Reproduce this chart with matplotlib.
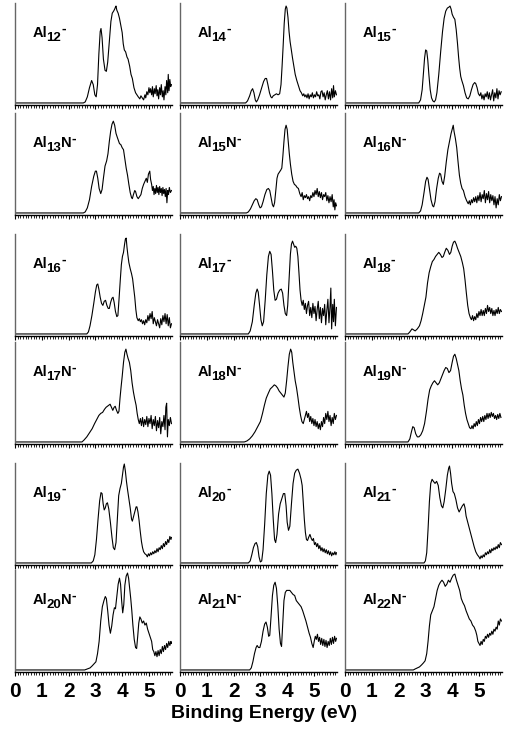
import matplotlib
matplotlib.use('Agg')
import matplotlib.pyplot as plt
from matplotlib.ticker import MultipleLocator

plt.rcParams['font.family'] = ['Liberation Sans', 'DejaVu Sans']

# spectra: (binding energy eV, relative intensity)
al12 = [(0, .02), (2.55, .02), (2.62, .03), (2.7, .08), (2.78, .17), (2.86, .24), (2.92, .2), (2.98, .1),
        (3.03, .08), (3.08, .2), (3.13, .5), (3.18, .72), (3.21, .75), (3.25, .66), (3.3, .45), (3.36, .34),
        (3.41, .33), (3.46, .42), (3.52, .62), (3.58, .82), (3.63, .9), (3.68, .92), (3.72, .94), (3.75, .96),
        (3.77, .97), (3.8, .93), (3.85, .9), (3.9, .85), (3.95, .78), (4.0, .71), (4.04, .6), (4.08, .54),
        (4.13, .52), (4.18, .47), (4.22, .45), (4.28, .38), (4.33, .3), (4.38, .26), (4.44, .17), (4.5, .12),
        (4.55, .1), (4.6, .08), (4.66, .06), (4.7, .09), (4.75, .07), (4.8, .05), (4.85, .1), (4.88, .07),
        (4.92, .13), (4.96, .1), (5.0, .17), (5.03, .12), (5.06, .16), (5.1, .1), (5.13, .18), (5.16, .08),
        (5.2, .16), (5.23, .11), (5.27, .19), (5.3, .09), (5.33, .15), (5.36, .06), (5.4, .17), (5.43, .1),
        (5.46, .2), (5.5, .08), (5.53, .14), (5.56, .05), (5.6, .18), (5.63, .1), (5.66, .24), (5.7, .12),
        (5.72, .3), (5.75, .14), (5.78, .25), (5.81, .18), (5.84, .2)]

al13n = [(0, .02), (2.55, .02), (2.62, .03), (2.7, .07), (2.78, .15), (2.86, .28), (2.94, .38), (3.0, .43),
         (3.04, .43), (3.09, .36), (3.14, .26), (3.2, .21), (3.25, .25), (3.3, .36), (3.36, .48), (3.42, .53),
         (3.47, .6), (3.52, .72), (3.57, .82), (3.62, .89), (3.67, .92), (3.72, .88), (3.77, .8), (3.82, .76),
         (3.86, .73), (3.9, .7), (3.95, .69), (4.0, .66), (4.05, .64), (4.1, .55), (4.15, .46), (4.2, .39),
         (4.25, .3), (4.3, .22), (4.35, .17), (4.38, .16), (4.42, .2), (4.47, .24), (4.5, .23), (4.55, .18),
         (4.6, .16), (4.65, .18), (4.7, .2), (4.75, .26), (4.8, .3), (4.85, .33), (4.9, .36), (4.94, .32),
         (4.98, .4), (5.03, .43), (5.06, .35), (5.1, .3), (5.13, .24), (5.16, .28), (5.19, .2), (5.22, .26),
         (5.25, .21), (5.28, .29), (5.31, .22), (5.34, .27), (5.37, .2), (5.4, .28), (5.43, .22), (5.46, .26),
         (5.49, .19), (5.52, .27), (5.55, .21), (5.58, .25), (5.61, .18), (5.64, .26), (5.67, .12), (5.7, .24),
         (5.73, .2), (5.76, .27), (5.8, .22), (5.84, .24)]

al14 = [(0, .02), (2.45, .02), (2.52, .04), (2.6, .09), (2.66, .14), (2.71, .16), (2.76, .12), (2.81, .05),
        (2.85, .03), (2.9, .05), (2.97, .1), (3.05, .17), (3.12, .23), (3.18, .26), (3.23, .26), (3.28, .2),
        (3.34, .12), (3.39, .08), (3.43, .07), (3.48, .09), (3.54, .1), (3.6, .11), (3.66, .1), (3.72, .11),
        (3.77, .2), (3.81, .38), (3.85, .58), (3.89, .8), (3.93, .94), (3.96, .97), (3.99, .95), (4.03, .86),
        (4.07, .72), (4.11, .62), (4.15, .55), (4.2, .46), (4.25, .38), (4.3, .3), (4.36, .24), (4.42, .19),
        (4.48, .14), (4.53, .12), (4.58, .09), (4.62, .11), (4.66, .08), (4.7, .1), (4.74, .07), (4.78, .11),
        (4.82, .06), (4.86, .1), (4.9, .08), (4.94, .12), (4.98, .07), (5.02, .1), (5.06, .08), (5.1, .13),
        (5.14, .09), (5.18, .1), (5.22, .06), (5.26, .13), (5.3, .14), (5.34, .08), (5.38, .12), (5.42, .05),
        (5.46, .1), (5.5, .14), (5.54, .06), (5.58, .13), (5.62, .05), (5.66, .16), (5.7, .07), (5.73, .19),
        (5.76, .08), (5.8, .14), (5.84, .1)]

al15n = [(0, .02), (2.48, .02), (2.55, .03), (2.63, .06), (2.7, .1), (2.77, .14), (2.83, .16), (2.88, .15),
         (2.94, .1), (2.99, .07), (3.04, .08), (3.1, .13), (3.17, .2), (3.24, .25), (3.3, .26), (3.35, .24),
         (3.4, .17), (3.45, .1), (3.49, .08), (3.53, .12), (3.58, .25), (3.62, .36), (3.66, .4), (3.71, .42),
         (3.76, .44), (3.8, .46), (3.84, .58), (3.88, .72), (3.92, .84), (3.96, .88), (4.0, .84), (4.04, .72),
         (4.08, .6), (4.12, .5), (4.17, .4), (4.22, .33), (4.27, .3), (4.32, .29), (4.37, .27), (4.42, .26),
         (4.47, .21), (4.52, .18), (4.56, .22), (4.6, .15), (4.64, .19), (4.68, .17), (4.72, .2), (4.76, .16),
         (4.8, .18), (4.84, .14), (4.88, .19), (4.92, .17), (4.96, .22), (5.0, .18), (5.04, .24), (5.08, .2),
         (5.12, .26), (5.16, .18), (5.2, .23), (5.24, .17), (5.28, .22), (5.32, .15), (5.36, .2), (5.4, .18),
         (5.44, .22), (5.48, .14), (5.52, .19), (5.56, .12), (5.6, .18), (5.64, .13), (5.68, .2), (5.72, .08),
         (5.75, .15), (5.78, .05), (5.81, .12), (5.84, .09)]

al15 = [(0, .02), (2.75, .02), (2.82, .05), (2.88, .15), (2.93, .32), (2.97, .46), (3.01, .54), (3.05, .53),
        (3.09, .44), (3.13, .3), (3.18, .15), (3.23, .07), (3.28, .04), (3.33, .03), (3.38, .05), (3.43, .12),
        (3.5, .3), (3.57, .52), (3.64, .72), (3.7, .85), (3.76, .92), (3.82, .95), (3.88, .96), (3.92, .97),
        (3.96, .94), (4.0, .89), (4.05, .86), (4.1, .84), (4.15, .74), (4.2, .6), (4.24, .47), (4.28, .36),
        (4.32, .28), (4.36, .24), (4.42, .19), (4.48, .12), (4.54, .07), (4.6, .06), (4.66, .09), (4.72, .15),
        (4.78, .2), (4.84, .22), (4.88, .21), (4.93, .17), (4.98, .11), (5.03, .09), (5.07, .12), (5.11, .06),
        (5.15, .1), (5.19, .05), (5.23, .11), (5.27, .08), (5.31, .13), (5.35, .06), (5.39, .12), (5.43, .05),
        (5.47, .1), (5.51, .15), (5.55, .04), (5.59, .12), (5.63, .07), (5.67, .16), (5.71, .06), (5.75, .14),
        (5.79, .1), (5.83, .13)]

al16n = [(0, .02), (2.75, .02), (2.82, .04), (2.88, .1), (2.95, .22), (3.01, .33), (3.06, .37), (3.1, .35),
         (3.15, .26), (3.21, .15), (3.27, .09), (3.31, .08), (3.36, .13), (3.42, .26), (3.48, .36), (3.53, .41),
         (3.57, .4), (3.62, .33), (3.67, .3), (3.72, .38), (3.78, .52), (3.84, .64), (3.9, .72), (3.96, .8),
         (4.01, .85), (4.04, .88), (4.07, .82), (4.12, .75), (4.17, .66), (4.22, .52), (4.27, .39), (4.32, .31),
         (4.37, .26), (4.42, .24), (4.48, .18), (4.54, .14), (4.6, .11), (4.64, .14), (4.68, .1), (4.72, .15),
         (4.76, .12), (4.8, .17), (4.84, .13), (4.88, .18), (4.92, .12), (4.96, .19), (5.0, .14), (5.04, .22),
         (5.08, .13), (5.12, .2), (5.16, .16), (5.2, .24), (5.24, .12), (5.28, .21), (5.32, .15), (5.36, .23),
         (5.4, .12), (5.44, .2), (5.48, .14), (5.52, .19), (5.56, .1), (5.6, .18), (5.64, .07), (5.68, .16),
         (5.72, .1), (5.76, .2), (5.8, .14), (5.84, .18)]

al16 = [(0, .02), (2.68, .02), (2.74, .04), (2.8, .1), (2.87, .2), (2.94, .32), (3.0, .43), (3.05, .5),
        (3.09, .51), (3.13, .46), (3.18, .38), (3.23, .32), (3.28, .3), (3.33, .34), (3.38, .35), (3.43, .3),
        (3.48, .27), (3.52, .27), (3.57, .33), (3.62, .37), (3.66, .38), (3.7, .33), (3.75, .24), (3.8, .19),
        (3.84, .2), (3.88, .35), (3.93, .55), (3.97, .7), (4.01, .78), (4.05, .82), (4.09, .9), (4.12, .95),
        (4.15, .96), (4.18, .87), (4.21, .8), (4.25, .72), (4.3, .66), (4.35, .61), (4.39, .56), (4.43, .47),
        (4.47, .38), (4.51, .26), (4.55, .18), (4.6, .15), (4.64, .17), (4.68, .14), (4.72, .16), (4.76, .12),
        (4.8, .15), (4.84, .11), (4.88, .16), (4.92, .13), (4.96, .2), (5.0, .15), (5.04, .22), (5.08, .17),
        (5.12, .24), (5.16, .12), (5.2, .18), (5.24, .14), (5.28, .1), (5.32, .16), (5.36, .12), (5.4, .08),
        (5.44, .17), (5.48, .11), (5.52, .2), (5.56, .14), (5.6, .22), (5.64, .12), (5.68, .21), (5.72, .1),
        (5.76, .18), (5.8, .08), (5.84, .12)]

al17n = [(0, .02), (2.5, .02), (2.58, .04), (2.68, .07), (2.78, .11), (2.88, .15), (2.97, .2), (3.05, .24),
         (3.13, .28), (3.2, .3), (3.27, .31), (3.34, .34), (3.4, .36), (3.45, .37), (3.5, .38), (3.55, .39),
         (3.6, .36), (3.65, .33), (3.7, .36), (3.74, .37), (3.79, .33), (3.84, .3), (3.88, .32), (3.92, .45),
         (3.96, .56), (4.0, .66), (4.05, .8), (4.1, .9), (4.14, .93), (4.18, .88), (4.22, .84), (4.27, .8),
         (4.32, .72), (4.37, .6), (4.42, .51), (4.47, .44), (4.52, .38), (4.56, .3), (4.6, .24), (4.64, .2),
         (4.68, .25), (4.72, .18), (4.76, .26), (4.8, .17), (4.84, .24), (4.88, .19), (4.92, .27), (4.96, .17),
         (5.0, .25), (5.04, .2), (5.08, .28), (5.12, .15), (5.16, .24), (5.2, .18), (5.24, .27), (5.28, .13),
         (5.32, .23), (5.36, .16), (5.4, .26), (5.44, .1), (5.48, .22), (5.52, .17), (5.56, .28), (5.6, .14),
         (5.63, .36), (5.66, .4), (5.69, .07), (5.72, .24), (5.76, .18), (5.8, .26), (5.84, .2)]

al17 = [(0, .02), (2.55, .02), (2.62, .05), (2.7, .14), (2.77, .3), (2.83, .42), (2.88, .46), (2.92, .43),
        (2.97, .3), (3.02, .16), (3.07, .1), (3.12, .14), (3.18, .35), (3.24, .6), (3.3, .78), (3.35, .83),
        (3.4, .8), (3.45, .64), (3.5, .45), (3.55, .35), (3.6, .36), (3.66, .42), (3.72, .45), (3.78, .46),
        (3.83, .42), (3.88, .3), (3.93, .22), (3.98, .2), (4.02, .3), (4.07, .55), (4.12, .8), (4.16, .9),
        (4.2, .93), (4.24, .9), (4.28, .87), (4.32, .88), (4.36, .86), (4.4, .78), (4.44, .62), (4.48, .45),
        (4.52, .35), (4.56, .3), (4.6, .35), (4.64, .26), (4.68, .32), (4.72, .22), (4.76, .3), (4.8, .34),
        (4.84, .2), (4.88, .28), (4.92, .18), (4.96, .32), (5.0, .22), (5.04, .29), (5.08, .15), (5.12, .26),
        (5.16, .34), (5.2, .17), (5.24, .28), (5.28, .13), (5.32, .27), (5.36, .2), (5.4, .31), (5.44, .11),
        (5.48, .25), (5.52, .36), (5.56, .13), (5.6, .29), (5.63, .47), (5.66, .07), (5.7, .31), (5.73, .14),
        (5.76, .36), (5.8, .1), (5.84, .28)]

al18n = [(0, .02), (2.4, .02), (2.5, .03), (2.6, .05), (2.7, .08), (2.8, .12), (2.9, .17), (3.0, .22),
         (3.08, .3), (3.15, .38), (3.22, .45), (3.3, .5), (3.37, .54), (3.45, .56), (3.52, .58), (3.58, .57),
         (3.64, .55), (3.7, .52), (3.76, .5), (3.82, .48), (3.88, .46), (3.93, .5), (3.98, .62), (4.03, .76),
         (4.08, .88), (4.13, .93), (4.17, .9), (4.21, .8), (4.25, .72), (4.3, .62), (4.35, .55), (4.4, .46),
         (4.45, .36), (4.5, .28), (4.55, .22), (4.6, .2), (4.64, .24), (4.68, .28), (4.72, .32), (4.76, .26),
         (4.8, .3), (4.84, .22), (4.88, .27), (4.92, .2), (4.96, .25), (5.0, .18), (5.04, .24), (5.08, .17),
         (5.12, .22), (5.16, .15), (5.2, .2), (5.24, .14), (5.28, .22), (5.32, .17), (5.36, .26), (5.4, .2),
         (5.44, .3), (5.48, .24), (5.52, .32), (5.56, .22), (5.6, .28), (5.64, .18), (5.68, .26), (5.72, .2),
         (5.76, .3), (5.8, .24), (5.84, .28)]

al18 = [(0, .02), (2.35, .02), (2.42, .04), (2.5, .07), (2.56, .06), (2.62, .05), (2.7, .07), (2.78, .1),
        (2.84, .15), (2.9, .22), (2.96, .3), (3.02, .38), (3.08, .52), (3.14, .62), (3.2, .68), (3.26, .73),
        (3.32, .75), (3.38, .78), (3.44, .8), (3.5, .82), (3.56, .8), (3.62, .77), (3.67, .78), (3.72, .82),
        (3.78, .86), (3.84, .84), (3.9, .8), (3.95, .82), (4.0, .88), (4.05, .92), (4.1, .93), (4.15, .9),
        (4.2, .86), (4.26, .82), (4.32, .78), (4.38, .72), (4.43, .66), (4.48, .55), (4.53, .42), (4.58, .3),
        (4.63, .22), (4.68, .18), (4.72, .16), (4.76, .2), (4.8, .15), (4.84, .19), (4.88, .16), (4.92, .22),
        (4.96, .18), (5.0, .24), (5.04, .2), (5.08, .26), (5.12, .2), (5.16, .25), (5.2, .2), (5.24, .27),
        (5.28, .22), (5.32, .3), (5.36, .24), (5.4, .28), (5.44, .22), (5.48, .27), (5.52, .2), (5.56, .25),
        (5.6, .2), (5.64, .26), (5.68, .22), (5.72, .28), (5.76, .22), (5.8, .26), (5.84, .24)]

al19n = [(0, .02), (2.35, .02), (2.42, .05), (2.48, .12), (2.53, .17), (2.58, .16), (2.64, .1), (2.7, .07),
         (2.76, .07), (2.83, .09), (2.9, .13), (2.97, .2), (3.04, .32), (3.1, .44), (3.16, .53), (3.22, .57),
         (3.28, .6), (3.34, .62), (3.4, .6), (3.46, .58), (3.52, .6), (3.58, .64), (3.64, .68), (3.7, .72),
         (3.76, .75), (3.82, .74), (3.88, .7), (3.94, .72), (4.0, .8), (4.05, .86), (4.1, .88), (4.15, .84),
         (4.2, .78), (4.25, .72), (4.3, .62), (4.35, .54), (4.4, .48), (4.45, .38), (4.5, .3), (4.55, .24),
         (4.6, .2), (4.65, .16), (4.7, .15), (4.74, .18), (4.78, .15), (4.82, .2), (4.86, .17), (4.9, .22),
         (4.94, .18), (4.98, .24), (5.02, .2), (5.06, .26), (5.1, .22), (5.14, .27), (5.18, .22), (5.22, .28),
         (5.26, .24), (5.3, .3), (5.34, .25), (5.38, .3), (5.42, .26), (5.46, .31), (5.5, .27), (5.54, .3),
         (5.58, .25), (5.62, .28), (5.66, .24), (5.7, .29), (5.74, .25), (5.78, .3), (5.82, .26)]

al19 = [(0, .02), (2.85, .02), (2.92, .04), (2.98, .1), (3.04, .25), (3.1, .45), (3.16, .63), (3.21, .71),
        (3.25, .7), (3.29, .6), (3.33, .54), (3.37, .56), (3.41, .6), (3.45, .61), (3.5, .55), (3.56, .42),
        (3.62, .27), (3.67, .17), (3.72, .15), (3.77, .22), (3.82, .45), (3.87, .68), (3.92, .75), (3.97, .8),
        (4.01, .88), (4.05, .96), (4.08, .99), (4.12, .92), (4.16, .82), (4.2, .74), (4.25, .65), (4.3, .56),
        (4.35, .45), (4.38, .43), (4.42, .47), (4.47, .52), (4.52, .57), (4.55, .57), (4.59, .52), (4.63, .44),
        (4.67, .34), (4.72, .23), (4.76, .17), (4.8, .13), (4.85, .11), (4.9, .1), (4.94, .08), (4.98, .11),
        (5.02, .09), (5.06, .12), (5.1, .1), (5.14, .13), (5.18, .11), (5.22, .14), (5.26, .12), (5.3, .16),
        (5.34, .13), (5.38, .17), (5.42, .15), (5.46, .19), (5.5, .16), (5.54, .21), (5.58, .18), (5.62, .23),
        (5.66, .2), (5.7, .25), (5.74, .22), (5.78, .28), (5.82, .25), (5.84, .27)]

al20n = [(0, .02), (2.6, .02), (2.7, .03), (2.8, .04), (2.88, .06), (2.95, .08), (3.02, .1), (3.08, .18),
         (3.14, .3), (3.2, .5), (3.26, .64), (3.32, .7), (3.37, .74), (3.41, .72), (3.46, .6), (3.51, .46),
         (3.56, .38), (3.61, .45), (3.66, .56), (3.71, .63), (3.75, .62), (3.8, .74), (3.85, .86), (3.9, .92),
         (3.94, .86), (3.98, .7), (4.02, .58), (4.06, .66), (4.1, .85), (4.15, .94), (4.2, .97), (4.24, .92),
         (4.28, .82), (4.32, .72), (4.36, .6), (4.4, .46), (4.45, .32), (4.5, .24), (4.54, .23), (4.58, .35),
         (4.62, .48), (4.66, .54), (4.7, .52), (4.75, .48), (4.8, .5), (4.85, .46), (4.9, .48), (4.95, .42),
         (5.0, .38), (5.05, .34), (5.1, .3), (5.14, .22), (5.18, .2), (5.22, .16), (5.26, .2), (5.3, .15),
         (5.34, .21), (5.38, .16), (5.42, .22), (5.46, .18), (5.5, .25), (5.54, .2), (5.58, .26), (5.62, .22),
         (5.66, .28), (5.7, .24), (5.74, .3), (5.78, .26), (5.82, .3), (5.84, .28)]

al20 = [(0, .02), (2.55, .02), (2.62, .04), (2.68, .1), (2.74, .17), (2.8, .21), (2.85, .22), (2.9, .18),
        (2.95, .08), (3.0, .03), (3.05, .04), (3.1, .15), (3.16, .4), (3.22, .7), (3.28, .88), (3.33, .92),
        (3.38, .88), (3.43, .7), (3.48, .45), (3.53, .25), (3.57, .22), (3.62, .3), (3.68, .5), (3.74, .6),
        (3.8, .65), (3.86, .7), (3.91, .7), (3.96, .58), (4.0, .42), (4.05, .34), (4.1, .38), (4.16, .6),
        (4.22, .8), (4.28, .9), (4.34, .93), (4.4, .94), (4.46, .9), (4.52, .84), (4.56, .78), (4.6, .62),
        (4.64, .45), (4.68, .32), (4.72, .25), (4.76, .24), (4.8, .27), (4.85, .3), (4.9, .26), (4.94, .24),
        (4.98, .26), (5.02, .2), (5.06, .22), (5.1, .18), (5.14, .21), (5.18, .16), (5.22, .19), (5.26, .14),
        (5.3, .17), (5.34, .13), (5.38, .16), (5.42, .12), (5.46, .15), (5.5, .11), (5.54, .14), (5.58, .1),
        (5.62, .13), (5.66, .09), (5.7, .12), (5.74, .1), (5.78, .13), (5.82, .1), (5.84, .12)]

al21n = [(0, .02), (2.6, .02), (2.66, .04), (2.72, .1), (2.78, .18), (2.84, .24), (2.88, .26), (2.93, .24),
         (2.98, .24), (3.04, .3), (3.1, .4), (3.16, .47), (3.21, .49), (3.26, .44), (3.31, .35), (3.35, .36),
         (3.4, .55), (3.45, .75), (3.5, .85), (3.55, .88), (3.6, .82), (3.65, .65), (3.7, .42), (3.75, .28),
         (3.79, .25), (3.83, .45), (3.88, .7), (3.93, .78), (3.98, .8), (4.04, .8), (4.1, .8), (4.16, .78),
         (4.22, .76), (4.28, .75), (4.34, .7), (4.4, .68), (4.46, .66), (4.52, .64), (4.58, .6), (4.64, .55),
         (4.7, .5), (4.76, .44), (4.82, .38), (4.87, .34), (4.92, .28), (4.97, .24), (5.01, .3), (5.05, .35),
         (5.09, .32), (5.13, .37), (5.17, .3), (5.21, .34), (5.25, .27), (5.29, .33), (5.33, .26), (5.37, .32),
         (5.41, .25), (5.45, .31), (5.49, .24), (5.53, .3), (5.57, .26), (5.61, .33), (5.65, .27), (5.69, .34),
         (5.73, .28), (5.77, .35), (5.81, .3), (5.84, .33)]

al21 = [(0, .02), (2.95, .02), (3.0, .04), (3.05, .12), (3.1, .35), (3.15, .62), (3.2, .8), (3.25, .84),
        (3.3, .82), (3.36, .8), (3.42, .82), (3.48, .78), (3.54, .66), (3.6, .58), (3.65, .56), (3.7, .62),
        (3.76, .74), (3.82, .88), (3.87, .95), (3.9, .97), (3.94, .9), (3.98, .8), (4.03, .72), (4.08, .7),
        (4.14, .64), (4.2, .56), (4.26, .52), (4.32, .55), (4.38, .58), (4.44, .6), (4.48, .56), (4.52, .48),
        (4.58, .42), (4.64, .36), (4.7, .3), (4.76, .24), (4.82, .18), (4.88, .13), (4.94, .1), (5.0, .08),
        (5.04, .06), (5.08, .09), (5.12, .07), (5.16, .1), (5.2, .08), (5.24, .12), (5.28, .1), (5.32, .13),
        (5.36, .11), (5.4, .15), (5.44, .12), (5.48, .16), (5.52, .14), (5.56, .17), (5.6, .15), (5.64, .18),
        (5.68, .16), (5.72, .2), (5.76, .17), (5.8, .22), (5.84, .2)]

al22n = [(0, .02), (2.55, .02), (2.62, .03), (2.7, .04), (2.78, .05), (2.86, .07), (2.93, .09), (2.99, .11),
         (3.05, .18), (3.1, .3), (3.15, .45), (3.2, .56), (3.26, .6), (3.32, .64), (3.38, .72), (3.44, .8),
         (3.5, .85), (3.56, .88), (3.62, .9), (3.68, .88), (3.74, .84), (3.8, .86), (3.86, .9), (3.92, .88),
         (3.98, .92), (4.04, .95), (4.1, .96), (4.16, .9), (4.22, .85), (4.28, .8), (4.34, .72), (4.4, .68),
         (4.46, .65), (4.52, .6), (4.58, .56), (4.64, .52), (4.7, .5), (4.76, .46), (4.82, .44), (4.88, .4),
         (4.92, .36), (4.96, .3), (5.0, .28), (5.04, .26), (5.08, .3), (5.12, .27), (5.16, .32), (5.2, .3),
         (5.24, .35), (5.28, .33), (5.32, .37), (5.36, .34), (5.4, .38), (5.44, .36), (5.48, .4), (5.52, .37),
         (5.56, .42), (5.6, .4), (5.64, .44), (5.68, .42), (5.72, .5), (5.76, .46), (5.8, .52), (5.84, .5)]

# panel grid, row by row
spectra = [[al12, al14, al15],
           [al13n, al15n, al16n],
           [al16, al17, al18],
           [al17n, al18n, al19n],
           [al19, al20, al21],
           [al20n, al21n, al22n]]
# cluster size and whether it carries an N atom
sizes = [[12, 14, 15], [13, 15, 16], [16, 17, 18], [17, 18, 19], [19, 20, 21], [20, 21, 22]]
has_n = [False, True, False, True, False, True]
xticks = [0, 1, 2, 3, 4, 5]

W, H = 507, 736
fig = plt.figure(figsize=(W / 100, H / 100), dpi=100)
renderer = fig.canvas.get_renderer()

col_left = [15, 180, 345]
row_bottom = [105, 215, 336, 444, 565, 672]
pw, ph = 157, 102


def put_label(ax, n, nitrogen):
    # "Al" + subscript size (+ "N") + raised minus, drawn piece by piece
    parts = [('Al', 10.5, 0), (str(n), 9.5, -4)]
    if nitrogen:
        parts.append(('N', 10.5, 0))
    parts.append(('-', 10, 4.5))
    x, y = ax.transAxes.transform((0.11, 0.665))
    for s, size, dy in parts:
        t = fig.text(x / W, (y + dy) / H, s, fontsize=size, fontweight='bold',
                     ha='left', va='baseline')
        x = t.get_window_extent(renderer).x1 - 0.3


for r in range(6):
    for c in range(3):
        ax = fig.add_axes([col_left[c] / W, (H - row_bottom[r]) / H, pw / W, ph / H])
        e = [p[0] for p in spectra[r][c]]
        y = [p[1] for p in spectra[r][c]]
        ax.plot(e, y, color='black', lw=0.8)
        ax.set_xlim(0, 5.86)
        ax.set_ylim(0, 1.0)
        for s in ['top', 'right']:
            ax.spines[s].set_visible(False)
        ax.spines['left'].set_color('#666666')
        ax.spines['left'].set_linewidth(1.0)
        ax.spines['bottom'].set_linewidth(1.0)
        ax.set_yticks([])
        ax.xaxis.set_major_locator(MultipleLocator(1))
        ax.xaxis.set_minor_locator(MultipleLocator(0.1))
        ax.tick_params(axis='x', which='major', direction='out', length=3.2, width=0.8, pad=4)
        ax.tick_params(axis='x', which='minor', direction='out', length=1.8, width=0.6)
        if r == 5:
            ax.set_xticks(xticks)
            ax.set_xticklabels([str(t) for t in xticks], fontsize=15, fontweight='bold')
        else:
            ax.set_xticklabels([])
        put_label(ax, sizes[r][c], has_n[r])

fig.text(264 / W, (H - 714) / H, 'Binding Energy (eV)', fontsize=14, fontweight='bold',
         ha='center', va='center')

fig.savefig('out.png', dpi=100)
